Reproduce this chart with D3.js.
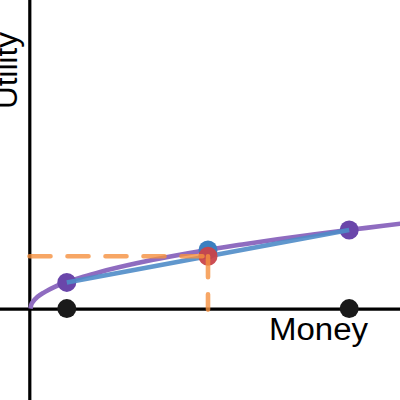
<!DOCTYPE html>
<html><head><meta charset="utf-8">
<script src="https://cdn.jsdelivr.net/npm/d3@7"></script>
<style>html,body{margin:0;padding:0;background:#fff;}svg{display:block;}</style>
</head><body>
<svg id="c" width="400" height="400"></svg>
<script>
// utility curve samples (money, utility)
const curveMoney   = [0, 0.02, 0.08, 0.2, 0.4, 0.7, 1, 1.5, 2, 3, 4, 5, 6, 7, 8, 9, 10, 10.6];
const curveUtility = [0, 0.14, 0.28, 0.45, 0.63, 0.84, 1, 1.22, 1.41, 1.73, 2, 2.24, 2.45, 2.65, 2.83, 3, 3.16, 3.26];
// outcomes (money) and their utilities
const outcomeMoney   = [1, 9];
const outcomeUtility = [1, 3];
// expected money, utility of expected money, expected utility
const expectedMoney = [5];
const utilOfExpected = [2.236];
const expectedUtility = [2];
const axisLabels = ["Money", "Utility"];

const svg = d3.select("#c");
const x = d3.scaleLinear().domain([0, 10]).range([30.5, 383.5]);
const y = d3.scaleLinear().domain([0, 10]).range([308.6, 46.6]);

// axes
svg.append("line").attr("x1", x(0) - 0.7).attr("x2", x(0) - 0.7).attr("y1", 0).attr("y2", 400)
  .attr("stroke", "#000").attr("stroke-width", 3.2);
svg.append("line").attr("x1", 0).attr("x2", 400).attr("y1", y(0) + 0.6).attr("y2", y(0) + 0.6)
  .attr("stroke", "#000").attr("stroke-width", 3.2);

// utility curve
const curvePts = curveMoney.map((m, i) => [m, curveUtility[i]]);
svg.append("path").datum(curvePts)
  .attr("d", d3.line().x(d => x(d[0])).y(d => y(d[1])).curve(d3.curveMonotoneX))
  .attr("fill", "none").attr("stroke", "#8f6cc0").attr("stroke-width", 4.6);

// black dots on money axis
svg.selectAll(".bd").data(outcomeMoney).join("circle")
  .attr("cx", d => x(d) + 1).attr("cy", y(0)).attr("r", 9.5).attr("fill", "#1a1a1a");

// purple dots
svg.selectAll(".pd").data(outcomeMoney).join("circle")
  .attr("cx", d => x(d) + 1).attr("cy", (d, i) => y(outcomeUtility[i])).attr("r", 9.5).attr("fill", "#6a46aa");

// chord
svg.append("line")
  .attr("x1", x(outcomeMoney[0]) + 1).attr("y1", y(outcomeUtility[0]))
  .attr("x2", x(outcomeMoney[1]) + 1).attr("y2", y(outcomeUtility[1]))
  .attr("stroke", "#4f8cc8").attr("stroke-width", 4.6).attr("opacity", 0.9);

// blue dot: utility of expected money
svg.append("circle").attr("cx", x(expectedMoney[0]) + 1).attr("cy", y(utilOfExpected[0]))
  .attr("r", 9.5).attr("fill", "#3b7fc0");
// red dot: expected utility
svg.append("circle").attr("cx", x(expectedMoney[0]) + 1).attr("cy", y(expectedUtility[0]))
  .attr("r", 9.5).attr("fill", "#c9454a").attr("opacity", 0.95);

// dashed guides
const dashG = svg.append("g").attr("stroke", "#f6913f").attr("stroke-width", 4.6)
  .attr("stroke-linecap", "round").attr("stroke-dasharray", "21,17").attr("opacity", 0.8);
dashG.append("line").attr("x1", x(0) - 1).attr("x2", x(expectedMoney[0]) + 1)
  .attr("y1", y(expectedUtility[0])).attr("y2", y(expectedUtility[0]));
dashG.append("line").attr("x1", x(expectedMoney[0]) + 1).attr("x2", x(expectedMoney[0]) + 1)
  .attr("y1", y(expectedUtility[0])).attr("y2", y(0) + 1);

// labels
svg.append("text").attr("x", 269).attr("y", 340)
  .attr("font-family", "Liberation Sans, Arial, sans-serif").attr("font-size", 31)
  .attr("textLength", 99).attr("lengthAdjust", "spacingAndGlyphs")
  .attr("fill", "#000").text(axisLabels[0]);
svg.append("text").attr("transform", "translate(17,32) rotate(-90)")
  .attr("text-anchor", "end")
  .attr("font-family", "Liberation Sans, Arial, sans-serif").attr("font-size", 31)
  .attr("textLength", 77).attr("lengthAdjust", "spacingAndGlyphs")
  .attr("fill", "#000").text(axisLabels[1]);
</script>
</body></html>
